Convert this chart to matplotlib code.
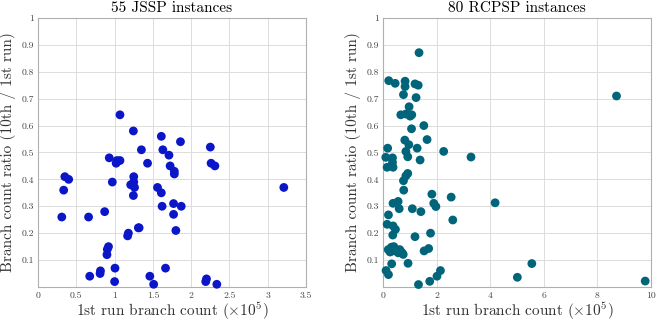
import matplotlib
matplotlib.use("Agg")
import matplotlib.pyplot as plt

plt.rcParams["font.family"] = "serif"
plt.rcParams["font.serif"] = ["cmr10"]
plt.rcParams["mathtext.fontset"] = "cm"
plt.rcParams["axes.formatter.use_mathtext"] = True

# 55 JSSP instances: 1st run branch count (x1e5), ratio 10th/1st
jssp_x = [0.31, 0.335, 0.35, 0.40, 0.675, 0.66, 0.81, 0.815, 0.87, 0.90, 0.905, 0.92,
          0.93, 0.97, 1.00, 1.005, 1.02, 1.03, 1.07, 1.07, 1.17, 1.18, 1.21, 1.245,
          1.25, 1.25, 1.26, 1.245, 1.31, 1.32, 1.35, 1.43, 1.46, 1.51, 1.61, 1.56,
          1.61, 1.62, 1.63, 1.665, 1.71, 1.725, 1.77, 1.77, 1.78, 1.78, 1.80, 1.87,
          1.86, 2.19, 2.20, 2.25, 2.26, 2.31, 2.335, 3.21]
jssp_y = [0.26, 0.36, 0.41, 0.40, 0.04, 0.26, 0.05, 0.06, 0.28, 0.12, 0.14, 0.15,
          0.48, 0.39, 0.02, 0.07, 0.46, 0.47, 0.47, 0.64, 0.19, 0.20, 0.38, 0.34,
          0.41, 0.39, 0.37, 0.58, 0.22, 0.22, 0.51, 0.46, 0.04, 0.01, 0.56, 0.37,
          0.35, 0.30, 0.51, 0.07, 0.49, 0.45, 0.31, 0.27, 0.43, 0.42, 0.21, 0.30,
          0.54, 0.02, 0.03, 0.52, 0.46, 0.45, 0.01, 0.37]

# 80 RCPSP instances
rcpsp_x = [1.34, 0.21, 0.45, 0.82, 0.82, 1.19, 1.31, 0.76, 1.23, 0.97, 0.66, 0.85,
           1.07, 1.01, 1.52, 1.06, 1.64, 0.81, 0.17, 0.96, 1.27, 2.26, 0.85, 8.71,
           0.10, 0.35, 0.35, 0.15, 0.37, 0.92, 1.38, 3.28,
           0.92, 0.85, 0.76, 0.77, 1.82, 2.54,
           0.37, 0.56, 0.60, 1.09, 1.41, 1.89, 1.97, 4.18,
           0.20, 2.60, 0.15, 0.37, 0.46, 0.36, 1.19, 1.77,
           0.19, 0.31, 0.43, 0.50, 0.62, 0.71, 0.31, 0.56, 0.75, 0.40, 0.26, 0.66,
           1.53, 1.70,
           0.32, 0.93, 0.11, 0.20, 2.14, 2.01, 1.74, 1.32, 5.01, 5.55, 9.78]
rcpsp_y = [0.871, 0.767, 0.757, 0.765, 0.745, 0.755, 0.750, 0.715, 0.704, 0.670, 0.640, 0.643,
           0.640, 0.635, 0.600, 0.588, 0.548, 0.546, 0.516, 0.529, 0.516, 0.504, 0.504, 0.710,
           0.482, 0.480, 0.463, 0.445, 0.445, 0.484, 0.472, 0.483,
           0.422, 0.413, 0.395, 0.360, 0.345, 0.334,
           0.311, 0.318, 0.291, 0.291, 0.280, 0.311, 0.299, 0.313,
           0.268, 0.249, 0.233, 0.227, 0.214, 0.193, 0.187, 0.200,
           0.139, 0.148, 0.143, 0.133, 0.139, 0.127, 0.133, 0.127, 0.121, 0.150, 0.130, 0.132,
           0.134, 0.143,
           0.086, 0.088, 0.061, 0.046, 0.061, 0.040, 0.021, 0.009, 0.036, 0.087, 0.022]

yticks = [0.1, 0.2, 0.3, 0.4, 0.5, 0.6, 0.7, 0.8, 0.9, 1]
ytick_labels = ["0.1", "0.2", "0.3", "0.4", "0.5", "0.6", "0.7", "0.8", "0.9", "1"]
jssp_xticks = [0, 0.5, 1, 1.5, 2, 2.5, 3, 3.5]
jssp_xtick_labels = ["0", "0.5", "1", "1.5", "2", "2.5", "3", "3.5"]
rcpsp_xticks = [0, 2, 4, 6, 8, 10]

fig = plt.figure(figsize=(6.56, 3.21), dpi=100)
ax1 = fig.add_axes([0.058, 0.106, 0.4085, 0.838])
ax2 = fig.add_axes([0.584, 0.106, 0.4085, 0.838])

panels = [
    (ax1, jssp_x, jssp_y, "#0a16c8", "55 JSSP instances", (0, 3.5), jssp_xticks, jssp_xtick_labels),
    (ax2, rcpsp_x, rcpsp_y, "#00657a", "80 RCPSP instances", (0, 10), rcpsp_xticks,
     [str(t) for t in rcpsp_xticks]),
]

for ax, xs, ys, col, title, xlim, xt, xtl in panels:
    ax.scatter(xs, ys, s=40, color=col, edgecolors="none", zorder=3, clip_on=False)
    ax.set_xlim(*xlim)
    ax.set_ylim(0, 1)
    ax.set_xticks(xt)
    ax.set_xticklabels(xtl)
    ax.set_yticks(yticks)
    ax.set_yticklabels(ytick_labels)
    ax.grid(True, color="#dcdcdc", linewidth=0.7)
    ax.set_axisbelow(True)
    ax.tick_params(length=0, labelsize=7, colors="#444444", pad=3)
    for sp in ax.spines.values():
        sp.set_color("#b0b0b0")
        sp.set_linewidth(0.8)
    ax.set_title(title, fontsize=11, pad=4)
    ax.set_xlabel(r"1st run branch count ($\times10^5$)", fontsize=11, color="#333333",
                  labelpad=1)
    ax.set_ylabel("Branch count ratio (10th / 1st run)", fontsize=11, color="#333333",
                  labelpad=4)

fig.savefig("out.png", dpi=100)
